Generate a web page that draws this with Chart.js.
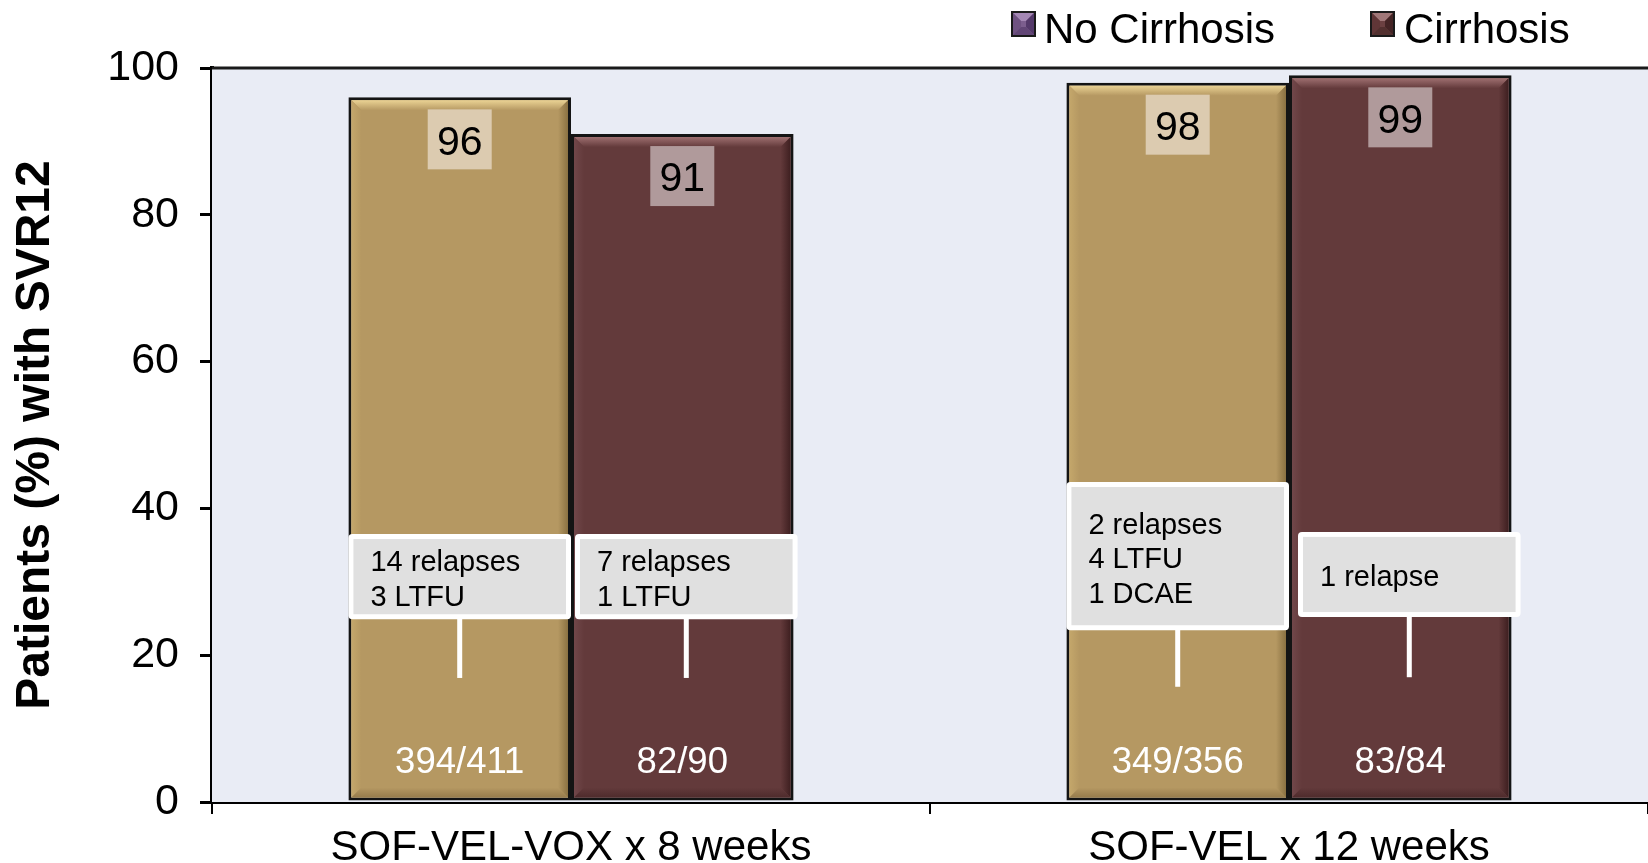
<!DOCTYPE html>
<html><head><meta charset="utf-8">
<script src="https://cdn.jsdelivr.net/npm/chart.js@4.4.1/dist/chart.umd.min.js"></script>
<style>html,body{margin:0;padding:0;background:#fff;}#wrap{position:relative;width:1648px;height:863px;}</style>
</head><body><div id="wrap"><canvas id="c"></canvas></div>
<script>
// ---- data ----
const categories = ['SOF-VEL-VOX x 8 weeks', 'SOF-VEL x 12 weeks'];
const seriesNames = ['No Cirrhosis', 'Cirrhosis'];
const noCirrhosisSVR = [96, 98];
const cirrhosisSVR = [91, 99];
const noCirrhosisCounts = ['394/411', '349/356'];
const cirrhosisCounts = ['82/90', '83/84'];
const noCirrhosisNotes = [['14 relapses', '3 LTFU'], ['2 relapses', '4 LTFU', '1 DCAE']];
const cirrhosisNotes = [['7 relapses', '1 LTFU'], ['1 relapse']];
const yTickValues = [0, 20, 40, 60, 80, 100];
const yAxisTitle = 'Patients (%) with SVR12';

// ---- styles / layout ----
const FONT = "'Liberation Sans', Arial, Helvetica, sans-serif";
const barColors = ['#b59862', '#633a3b'];
const bevelColors = [
  {top:'#ead293', left:'#c4a76b', right:'#8a7142', bottom:'#977c4c'},
  {top:'#9e6f70', left:'#71474a', right:'#3e1f20', bottom:'#4e2b2c'}
];
const valueBoxColors = ['#dccbb0', '#b09a9b'];
const legendSwatch = [
  {base:'#7c5e8e', top:'#a487b4', left:'#6f5281', right:'#54396a', bottom:'#624676'},
  {base:'#6b4041', top:'#a07778', left:'#603637', right:'#442425', bottom:'#52302f'}
];
// note boxes: [top, bottom, lineEnd] in axis units, x shift in px (per dataset, per category)
const noteLayout = [
  [{top:36.5, bottom:24.9, lineEnd:16.9, shift:0}, {top:43.6, bottom:23.4, lineEnd:15.7, shift:0}],
  [{top:36.5, bottom:24.9, lineEnd:16.9, shift:4}, {top:36.8, bottom:25.2, lineEnd:17.0, shift:9}]
];
const countLabelY = 5.3;

function poly(ctx, pts, fill){
  ctx.beginPath(); ctx.moveTo(pts[0][0], pts[0][1]);
  for (let k=1;k<pts.length;k++) ctx.lineTo(pts[k][0], pts[k][1]);
  ctx.closePath(); ctx.fillStyle = fill; ctx.fill();
}

const decorPlugin = {
  id: 'decor',
  beforeDatasetsDraw(chart){
    const {ctx, chartArea:a} = chart;
    ctx.save(); ctx.fillStyle = '#e9ecf5';
    ctx.fillRect(a.left, a.top, a.right - a.left, a.bottom - a.top);
    ctx.restore();
  },
  afterDatasetsDraw(chart){
    const ctx = chart.ctx; const ys = chart.scales.y;
    const counts = [noCirrhosisCounts, cirrhosisCounts];
    const notes = [noCirrhosisNotes, cirrhosisNotes];
    ctx.save();
    chart.data.datasets.forEach((ds, di) => {
      const meta = chart.getDatasetMeta(di);
      const bc = bevelColors[di];
      meta.data.forEach((bar, i) => {
        const p = bar.getProps(['x','y','base','width'], true);
        const bw = 3, b = 10;
        const L = p.x - p.width/2 + bw, R = p.x + p.width/2 - bw, T = p.y + bw, B = p.base - bw;
        let g = ctx.createLinearGradient(0, T, 0, T + b);
        g.addColorStop(0, bc.top); g.addColorStop(1, barColors[di]);
        poly(ctx, [[L,T],[R,T],[R-b,T+b],[L+b,T+b]], g);
        g = ctx.createLinearGradient(L, 0, L + b, 0);
        g.addColorStop(0, bc.left); g.addColorStop(1, barColors[di]);
        poly(ctx, [[L,T],[L+b,T+b],[L+b,B-b],[L,B]], g);
        g = ctx.createLinearGradient(R, 0, R - b, 0);
        g.addColorStop(0, bc.right); g.addColorStop(1, barColors[di]);
        poly(ctx, [[R,T],[R-b,T+b],[R-b,B-b],[R,B]], g);
        g = ctx.createLinearGradient(0, B, 0, B - b);
        g.addColorStop(0, bc.bottom); g.addColorStop(1, barColors[di]);
        poly(ctx, [[L,B],[L+b,B-b],[R-b,B-b],[R,B]], g);

        // value label box
        const bx = p.x - 32, by = p.y + 12;
        ctx.fillStyle = valueBoxColors[di];
        ctx.fillRect(bx, by, 64, 60);
        ctx.fillStyle = '#000'; ctx.font = '41px ' + FONT;
        ctx.textAlign = 'center'; ctx.textBaseline = 'middle';
        ctx.fillText(String(ds.data[i]), p.x, by + 34);

        // count label
        ctx.fillStyle = '#fff'; ctx.font = '36.5px ' + FONT;
        ctx.fillText(counts[di][i], p.x, ys.getPixelForValue(countLabelY));

        // note box
        const nl = noteLayout[di][i];
        const nL = p.x - p.width/2 + nl.shift, nR = p.x + p.width/2 + nl.shift;
        const nT = ys.getPixelForValue(nl.top), nB = ys.getPixelForValue(nl.bottom);
        const cx = (nL + nR) / 2;
        ctx.fillStyle = '#ffffff';
        ctx.fillRect(cx - 2.5, nB - 2, 5, ys.getPixelForValue(nl.lineEnd) - nB + 2);
        ctx.beginPath(); ctx.roundRect(nL, nT, nR - nL, nB - nT, 4); ctx.fill();
        ctx.fillStyle = '#e0e0e0';
        ctx.fillRect(nL + 5, nT + 5, nR - nL - 10, nB - nT - 10);
        const lines = notes[di][i]; const lh = 34.5;
        const mid = (nT + nB) / 2 + 4;
        ctx.fillStyle = '#000'; ctx.font = '29px ' + FONT;
        ctx.textAlign = 'left'; ctx.textBaseline = 'middle';
        lines.forEach((t, k) => {
          ctx.fillText(t, nL + 22, mid + (k - (lines.length - 1)/2) * lh);
        });
      });
    });
    ctx.restore();
  },
  afterDraw(chart){
    const {ctx, chartArea:a} = chart;
    ctx.save();
    ctx.strokeStyle = '#1a1a1a'; ctx.lineWidth = 3;
    ctx.beginPath(); ctx.moveTo(a.left, a.top); ctx.lineTo(a.right, a.top); ctx.stroke();
    // legend
    const items = [{x:1011, tx:1044}, {x:1370, tx:1404}];
    items.forEach((it, k) => {
      const s = legendSwatch[k];
      const x0 = it.x, y0 = 11, w = 25, h = 26, b = 8;
      ctx.fillStyle = '#1a1a1a'; ctx.fillRect(x0, y0, w, h);
      const L = x0 + 2, R = x0 + w - 2, T = y0 + 2, B = y0 + h - 2;
      ctx.fillStyle = s.base; ctx.fillRect(L, T, R - L, B - T);
      poly(ctx, [[L,T],[R,T],[R-b,T+b],[L+b,T+b]], s.top);
      poly(ctx, [[L,T],[L+b,T+b],[L+b,B-b],[L,B]], s.left);
      poly(ctx, [[R,T],[R-b,T+b],[R-b,B-b],[R,B]], s.right);
      poly(ctx, [[L,B],[L+b,B-b],[R-b,B-b],[R,B]], s.bottom);
      ctx.fillStyle = '#000'; ctx.font = '42px ' + FONT;
      ctx.textAlign = 'left'; ctx.textBaseline = 'middle';
      ctx.fillText(seriesNames[k], it.tx, 31);
    });
    ctx.restore();
  }
};

new Chart(document.getElementById('c'), {
  type: 'bar',
  data: {
    labels: categories,
    datasets: [
      {label: seriesNames[0], data: noCirrhosisSVR, backgroundColor: barColors[0], borderColor: '#141414', borderWidth: 3, borderSkipped: false},
      {label: seriesNames[1], data: cirrhosisSVR, backgroundColor: barColors[1], borderColor: '#141414', borderWidth: 3, borderSkipped: false}
    ]
  },
  options: {
    responsive: true, maintainAspectRatio: false, animation: false,
    layout: {padding: {top: 68, left: 0, right: 0, bottom: 0}},
    datasets: {bar: {categoryPercentage: 0.62, barPercentage: 1.0}},
    plugins: {legend: {display: false}, tooltip: {enabled: false}},
    scales: {
      x: {
        afterFit(s){ s.height = 61; },
        grid: {display: true, drawOnChartArea: false, drawTicks: true, tickLength: 12, color: '#000', lineWidth: 2, offset: true},
        border: {display: true, color: '#000', width: 4},
        ticks: {color: '#000', font: {family: FONT, size: 42}, padding: 9, maxRotation: 0}
      },
      y: {
        min: 0, max: 100,
        afterFit(s){ s.width = 212; },
        afterBuildTicks(s){ s.ticks = yTickValues.map(v => ({value: v})); },
        grid: {display: true, drawOnChartArea: false, drawTicks: true, tickLength: 12, color: '#000', lineWidth: 3},
        border: {display: true, color: '#000', width: 4},
        ticks: {color: '#000', font: {family: FONT, size: 43}, padding: 21},
        title: {display: true, text: yAxisTitle, color: '#000', font: {family: FONT, size: 48, weight: 'bold'}, padding: {top: 7, bottom: 0}}
      }
    }
  },
  plugins: [decorPlugin]
});
</script>
</body></html>
